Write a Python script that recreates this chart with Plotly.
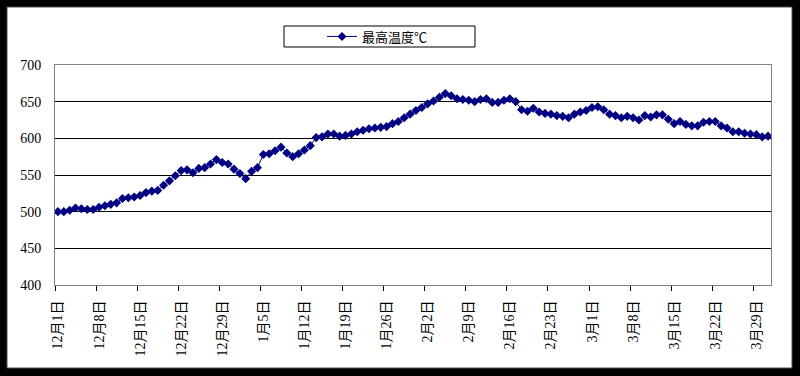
import pandas as pd
import plotly.graph_objects as go

# Categories: daily dates, 1 Dec 2011 - 31 Mar 2012 (leap year)
dates = pd.date_range("2011-12-01", "2012-03-31", freq="D")
categories = [f"{d.month}月{d.day}日" for d in dates]

series_name = "最高温度℃"
temps = [
    500, 500, 502, 505, 504, 503, 503, 506, 508, 510,
    512, 518, 519, 520, 522, 526, 528, 529, 536, 542,
    549, 556, 557, 553, 559, 560, 565, 571, 567, 565,
    558, 552, 545, 555, 560, 578, 579, 583, 588, 580,
    575, 579, 584, 590, 601, 602, 606, 606, 603, 604,
    606, 609, 611, 613, 614, 615, 616, 620, 623, 628,
    633, 638, 642, 647, 651, 656, 661, 658, 654, 653,
    652, 650, 653, 654, 649, 649, 652, 654, 650, 639,
    637, 641, 636, 634, 633, 631, 630, 628, 633, 636,
    638, 642, 643, 639, 633, 631, 628, 630, 628, 625,
    631, 629, 632, 632, 626, 620, 623, 619, 617, 617,
    622, 623, 623, 617, 614, 609, 609, 607, 606, 605,
    602, 603,
]

y_ticks = [400, 450, 500, 550, 600, 650, 700]

NAVY = "#000080"
fig = go.Figure()
fig.add_trace(go.Scatter(
    x=categories, y=temps, mode="lines+markers", name=series_name,
    line=dict(color=NAVY, width=1),
    marker=dict(symbol="diamond", size=7, color=NAVY),
    showlegend=True,
))

L, R, T, B = 55, 29, 65, 91
W, H = 800 - L - R, 376 - T - B

def px_x(p):
    return (p - L) / W

def px_y(p):
    return (376 - B - p) / H

fig.update_layout(
    width=800, height=376,
    margin=dict(l=L, r=R, t=T, b=B),
    paper_bgcolor="black",
    plot_bgcolor="white",
    shapes=[
        dict(type="rect", xref="paper", yref="paper", layer="below",
             x0=px_x(7), x1=px_x(792), y0=px_y(368), y1=px_y(7),
             fillcolor="white", line=dict(color="#505050", width=1)),
        dict(type="rect", xref="paper", yref="paper", layer="above",
             x0=px_x(284), x1=px_x(475), y0=px_y(47), y1=px_y(26),
             fillcolor="rgba(0,0,0,0)", line=dict(color="black", width=1)),
    ],
    legend=dict(
        x=px_x(322), y=px_y(36.5), xanchor="left", yanchor="middle",
        bgcolor="rgba(0,0,0,0)", borderwidth=0,
        font=dict(family="Noto Sans CJK SC", size=13, color="black"),
    ),
    xaxis=dict(
        type="category", range=[-0.5, len(categories) - 0.5],
        tickmode="linear", tick0=0, dtick=7, tickson="boundaries",
        ticks="outside", ticklen=5, tickcolor="black",
        showgrid=False, showline=True, linecolor="#808080", mirror=True,
        tickangle=-90, ticklabelstandoff=9,
        tickfont=dict(family="Liberation Serif, Noto Sans CJK SC", size=14, color="black"),
    ),
    yaxis=dict(
        range=[400, 700], tickmode="array", tickvals=y_ticks,
        showgrid=True, gridcolor="black", gridwidth=1,
        showline=True, linecolor="#808080", mirror=True,
        ticks="", ticklabelstandoff=10,
        tickfont=dict(family="Liberation Serif", size=14, color="black"),
        zeroline=False,
    ),
)

fig.write_html("out.html", config={"displayModeBar": False},
               post_script="document.body.style.margin='0px';")
